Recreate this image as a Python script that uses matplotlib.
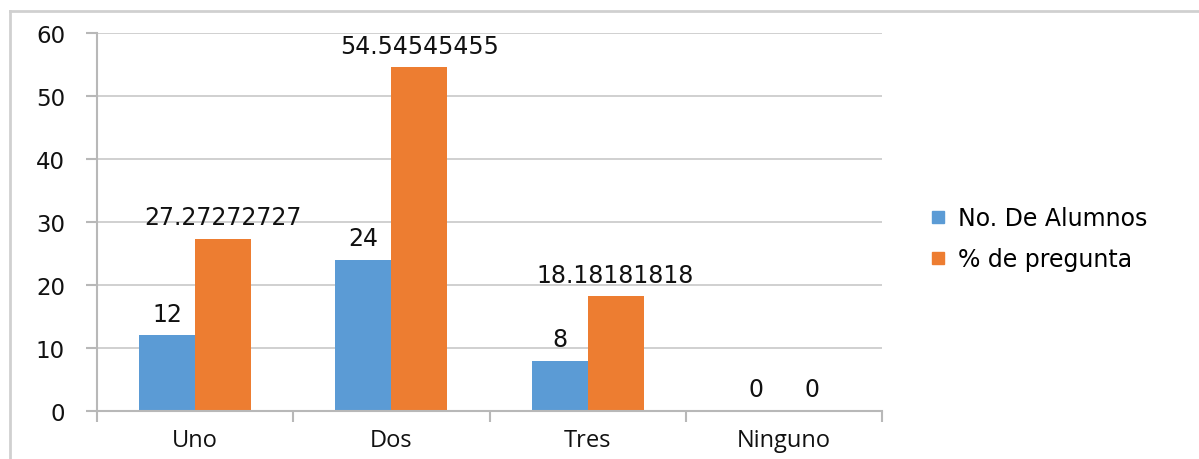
import numpy as np
import matplotlib
matplotlib.use("Agg")
import matplotlib.pyplot as plt
from matplotlib.lines import Line2D

# data
categorias = ['Uno', 'Dos', 'Tres', 'Ninguno']
alumnos = [12, 24, 8, 0]
porcentaje = [27.27272727, 54.54545455, 18.18181818, 0]
series = ['No. De Alumnos', '% de pregunta']
colores = ['#5B9BD5', '#ED7D31']

fig = plt.figure(figsize=(11.99, 4.6), dpi=100)
ax = fig.add_axes([97 / 1199, 1 - 412 / 460, (882 - 97) / 1199, (412 - 34) / 460])

x = np.arange(len(categorias))
w = 0.285
b1 = ax.bar(x - w / 2, alumnos, w, color=colores[0], label=series[0])
b2 = ax.bar(x + w / 2, porcentaje, w, color=colores[1], label=series[1])

for bars, vals in [(b1, alumnos), (b2, porcentaje)]:
    for rect, v in zip(bars, vals):
        ax.annotate(f"{v:.10g}", (rect.get_x() + rect.get_width() / 2, v),
                    xytext=(0, 7), textcoords='offset points',
                    ha='center', va='bottom', fontsize=17, color='#111111',
                    family='DejaVu Sans')

ax.set_xlim(-0.5, 3.5)
ax.set_ylim(0, 60)
ax.set_yticks(range(0, 61, 10))
ax.yaxis.grid(True, color='#c8c8c8', linewidth=1.2)
ax.set_axisbelow(True)
for s in ['top', 'right']:
    ax.spines[s].set_visible(False)
for s in ['left', 'bottom']:
    ax.spines[s].set_color('#b8b8b8')
    ax.spines[s].set_linewidth(1.5)

ax.set_xticks(x)
ax.set_xticklabels(categorias, fontsize=17, family='Open Sans', color='#111111')
ax.set_xticks(np.arange(-0.5, 4, 1), minor=True)
ax.tick_params(axis='x', which='major', length=0, pad=12)
ax.tick_params(axis='x', which='minor', length=8, color='#b8b8b8', width=1.5)
ax.tick_params(axis='y', length=8, color='#b8b8b8', width=1.5, pad=15)
for t in ax.get_yticklabels():
    t.set_fontsize(16.5)
    t.set_family('DejaVu Sans')
    t.set_color('#111111')

handles = [Line2D([], [], marker='s', linestyle='', markersize=9, color=c) for c in colores]
fig.legend(handles, series, loc='upper left', bbox_to_anchor=(907 / 1199, 1 - 186 / 460),
           frameon=False, handlelength=0.8, handletextpad=0.45,
           labelspacing=0.72, prop={'family': 'DejaVu Sans', 'size': 17})

# outer chart frame (top and left edges visible)
fig.add_artist(Line2D([10 / 1199, 1], [1 - 12 / 460, 1 - 12 / 460],
                      transform=fig.transFigure, color='#d0d0d0', linewidth=2))
fig.add_artist(Line2D([10 / 1199, 10 / 1199], [0, 1 - 12 / 460],
                      transform=fig.transFigure, color='#d0d0d0', linewidth=2))

fig.savefig('out.png', dpi=100)
